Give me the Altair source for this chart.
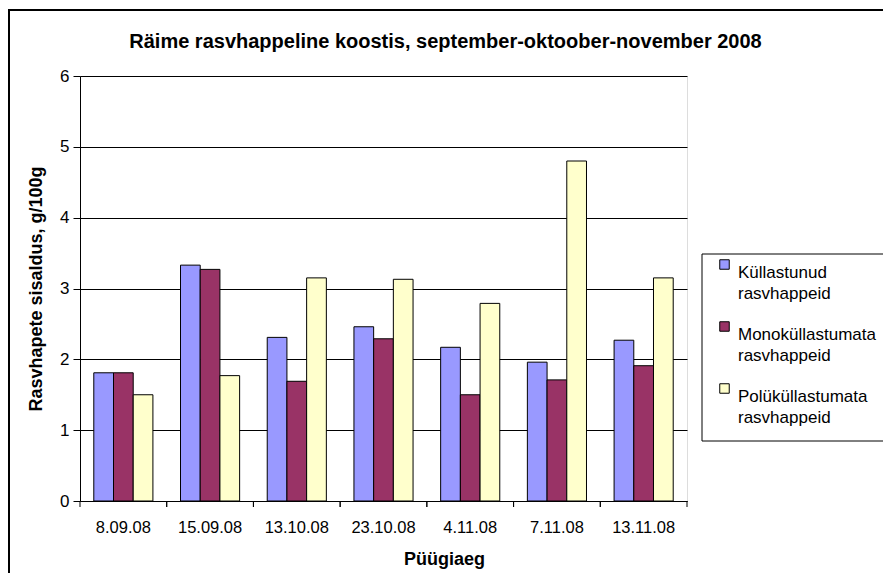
import altair as alt
import pandas as pd

# ---- data ----
dates = ["8.09.08", "15.09.08", "13.10.08", "23.10.08", "4.11.08", "7.11.08", "13.11.08"]
series = ["Küllastunud rasvhappeid", "Monoküllastumata rasvhappeid", "Polüküllastumata rasvhappeid"]
kyllastunud = [1.81, 3.33, 2.31, 2.46, 2.17, 1.96, 2.27]
monokyllastumata = [1.81, 3.27, 1.69, 2.29, 1.50, 1.71, 1.91]
polykyllastumata = [1.50, 1.77, 3.15, 3.13, 2.79, 4.80, 3.15]
colors = ["#9999FF", "#993366", "#FFFFCC"]
y_ticks = [0, 1, 2, 3, 4, 5, 6]

rows = []
for s, vals in zip(series, [kyllastunud, monokyllastumata, polykyllastumata]):
    for d, v in zip(dates, vals):
        rows.append({"date": d, "group": s, "value": v})
df = pd.DataFrame(rows)
df_dates = pd.DataFrame({"date": dates})

FONT = "Liberation Sans"
W, H = 607, 425

x_scale = alt.Scale(domain=dates, paddingInner=0, paddingOuter=0)
x_axis = alt.Axis(
    title="Püügiaeg", labelAngle=0, ticks=False, domainColor="#000000",
    labelFontSize=16.5, labelPadding=18, labelColor="#000000",
    titleFontSize=18, titleFontWeight="bold", titlePadding=15, titleColor="#000000",
    titleX=364, labelFont=FONT, titleFont=FONT,
)
y_axis = alt.Axis(
    values=y_ticks, title="Rasvhapete sisaldus, g/100g", grid=True, gridColor="#000000",
    gridWidth=1, domainColor="#000000", tickColor="#000000", tickSize=7,
    labelFontSize=17, labelPadding=4, labelColor="#000000",
    titleFontSize=18, titleFontWeight="bold", titlePadding=14, titleColor="#000000",
    labelFont=FONT, titleFont=FONT,
)

bars = alt.Chart(df).mark_bar(stroke="#000000", strokeWidth=1).encode(
    x=alt.X("date:N", scale=x_scale, axis=x_axis, sort=dates),
    xOffset=alt.XOffset("group:N", scale=alt.Scale(domain=series, paddingInner=0, paddingOuter=0.7)),
    y=alt.Y("value:Q", scale=alt.Scale(domain=[0, 6], nice=False), axis=y_axis),
    color=alt.Color(
        "group:N",
        scale=alt.Scale(domain=series, range=colors),
        legend=alt.Legend(
            title=None, orient="none", legendX=636, legendY=180, direction="vertical",
            symbolType="square", symbolSize=90, symbolStrokeColor="#000000", symbolStrokeWidth=1,
            symbolOpacity=1, labelFont=FONT, labelFontSize=17, labelColor="#000000",
            labelExpr="split(datum.label, ' ')", labelLimit=400, labelOffset=5,
            rowPadding=16, padding=0, labelBaseline="top",
        ),
    ),
)

ticks_left = alt.Chart(df_dates).mark_rule(color="#000000", strokeWidth=1).encode(
    x=alt.X("date:N", bandPosition=0, scale=x_scale, axis=x_axis, sort=dates),
    y=alt.value(H), y2=alt.value(H + 6),
)
ticks_right = alt.Chart(df_dates).mark_rule(color="#000000", strokeWidth=1).encode(
    x=alt.X("date:N", bandPosition=1, scale=x_scale, axis=x_axis, sort=dates),
    y=alt.value(H), y2=alt.value(H + 6),
)

one = pd.DataFrame({"k": [0]})
frame = alt.Chart(one).mark_rect(fillOpacity=0, stroke="#000000", strokeWidth=2).encode(
    x=alt.value(-71), x2=alt.value(1000), y=alt.value(-66), y2=alt.value(800),
)
legend_box = alt.Chart(one).mark_rect(fillOpacity=0, stroke="#000000", strokeWidth=1).encode(
    x=alt.value(622), x2=alt.value(1000), y=alt.value(178), y2=alt.value(365),
)

chart = alt.layer(frame, legend_box, bars, ticks_left, ticks_right).properties(
    width=W, height=H,
    autosize=alt.AutoSizeParams(type="none"),
    padding={"left": 72, "top": 68, "right": 196, "bottom": 72},
    title=alt.TitleParams(
        text="Räime rasvhappeline koostis, september-oktoober-november 2008",
        font=FONT, fontSize=20, fontWeight="bold", color="#000000",
        anchor="middle", dx=62, offset=-43,
    ),
).configure_view(stroke="#808080", strokeWidth=1).configure(
    background="white",
    style={"guide-label": {"lineHeight": 21}},
)

chart.save("out.html", embed_options={"renderer": "svg", "actions": False})
